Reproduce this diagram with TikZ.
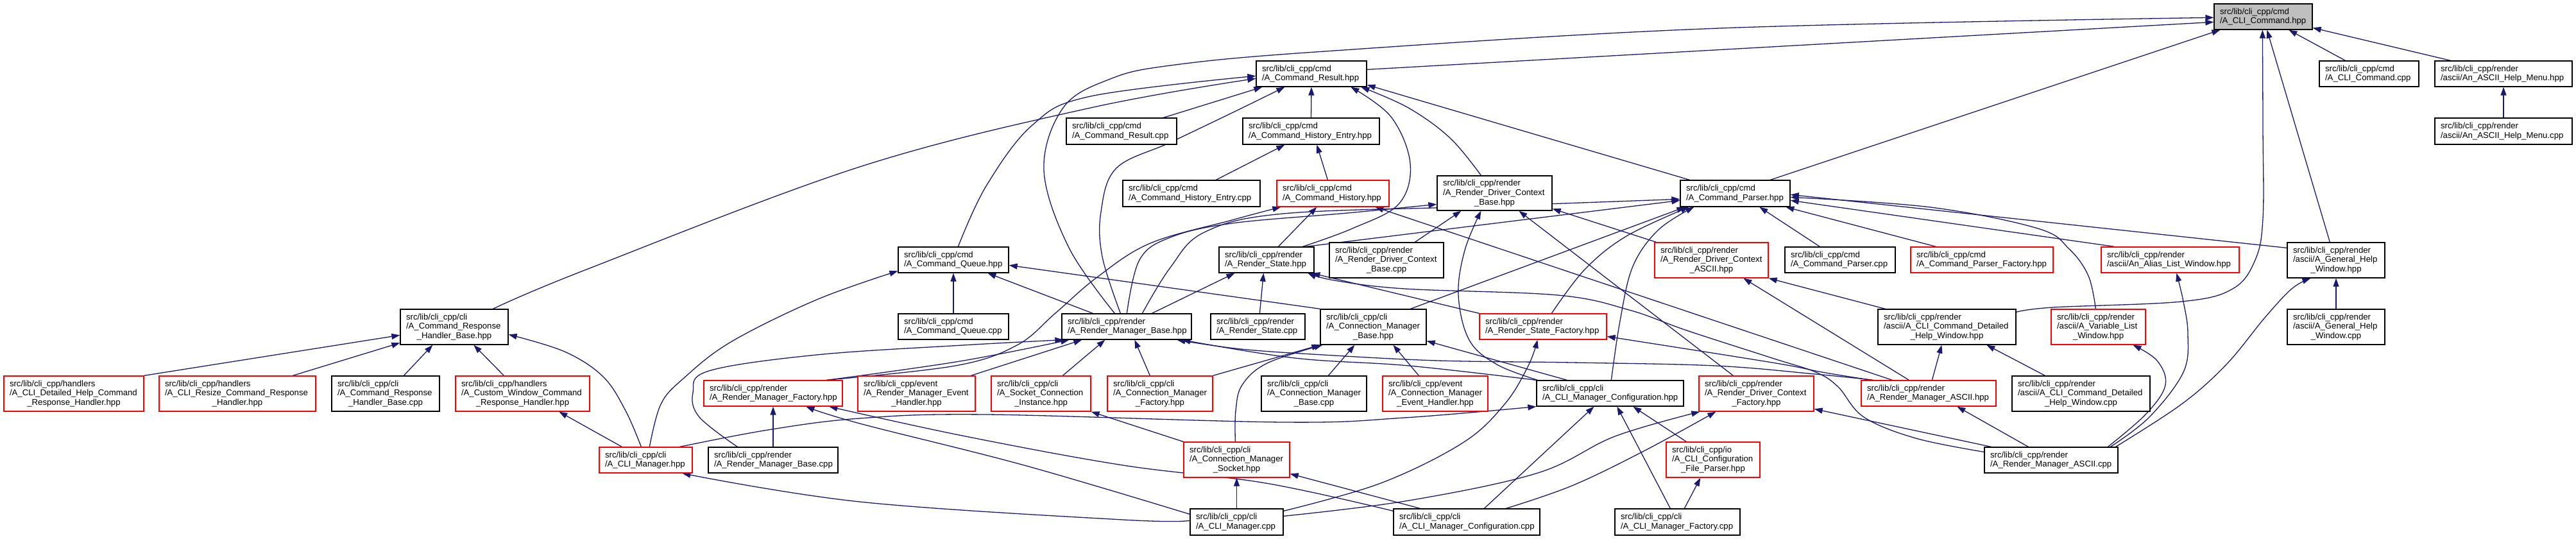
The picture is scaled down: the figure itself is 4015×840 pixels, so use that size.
\documentclass[tikz,border=0pt]{standalone}
\usepackage{fontspec}
\setmainfont{Liberation Sans}
\usetikzlibrary{arrows.meta}
\definecolor{edgec}{HTML}{191970}
\definecolor{redb}{HTML}{FF0000}
\definecolor{grayf}{HTML}{BFBFBF}
\pgfdeclarelayer{bg}
\pgfsetlayers{bg,main}
\newcommand\lastln[1]{\makebox[\hsize][c]{#1}}
\newcommand\bx[7]{%
  \pgfmathsetmacro\bxw{#4-#2}\pgfmathsetmacro\bxh{#5-#3}\pgfmathsetmacro\bxt{#4-#2-18}%
  \node[#6, minimum width=\bxw pt, minimum height=\bxh pt] (#1) at ({(#2+#4)/2},{(#3+#5)/2}) {};
  \node[txt, text width=\bxt pt] (#1t) at (#1.center) {#7};}
\begin{document}
\begin{tikzpicture}[x=1pt,y=-1pt,
  boxk/.style={draw=black, fill=white, line width=1.3pt, inner sep=0pt, rectangle},
  boxr/.style={draw=redb, fill=white, line width=1.3pt, inner sep=0pt, rectangle},
  boxg/.style={draw=black, fill=grayf, line width=1.3pt, inner sep=0pt, rectangle},
  txt/.style={inner sep=0pt, align=left, font=\fontsize{13.2}{14.6}\selectfont},
  e/.style={draw=edgec, line width=1.3pt, -{Triangle[length=13pt,width=9pt]}},
  sm/.style={smooth, tension=0.6}]
\useasboundingbox (0,0) rectangle (4015,840);

\bx{n0}{3451}{6}{3604}{46}{boxg}{src/lib/cli\_cpp/cmd\\/A\_CLI\_Command.hpp}
\bx{cr}{1958}{95}{2130}{135}{boxk}{src/lib/cli\_cpp/cmd\\/A\_Command\_Result.hpp}
\bx{cc}{3615}{95}{3770}{135}{boxk}{src/lib/cli\_cpp/cmd\\/A\_CLI\_Command.cpp}
\bx{ahm}{3795}{95}{4009}{135}{boxk}{src/lib/cli\_cpp/render\\/ascii/An\_ASCII\_Help\_Menu.hpp}
\bx{ahmc}{3795}{184}{4009}{225}{boxk}{src/lib/cli\_cpp/render\\/ascii/An\_ASCII\_Help\_Menu.cpp}
\bx{crc}{1662}{184}{1834}{225}{boxk}{src/lib/cli\_cpp/cmd\\/A\_Command\_Result.cpp}
\bx{che}{1937}{184}{2150}{225}{boxk}{src/lib/cli\_cpp/cmd\\/A\_Command\_History\_Entry.hpp}
\bx{chec}{1750}{281}{1964}{322}{boxk}{src/lib/cli\_cpp/cmd\\/A\_Command\_History\_Entry.cpp}
\bx{ch}{1990}{281}{2165}{322}{boxr}{src/lib/cli\_cpp/cmd\\/A\_Command\_History.hpp}
\bx{rdcb}{2240}{274}{2419}{328}{boxk}{src/lib/cli\_cpp/render\\/A\_Render\_Driver\_Context\\\lastln{\_Base.hpp}}
\bx{cp}{2619}{281}{2790}{322}{boxk}{src/lib/cli\_cpp/cmd\\/A\_Command\_Parser.hpp}
\bx{cq}{1400}{385}{1572}{425}{boxk}{src/lib/cli\_cpp/cmd\\/A\_Command\_Queue.hpp}
\bx{rs}{1900}{385}{2048}{425}{boxk}{src/lib/cli\_cpp/render\\/A\_Render\_State.hpp}
\bx{rdcbc}{2072}{378}{2250}{433}{boxk}{src/lib/cli\_cpp/render\\/A\_Render\_Driver\_Context\\\lastln{\_Base.cpp}}
\bx{rdca}{2579}{378}{2756}{433}{boxr}{src/lib/cli\_cpp/render\\/A\_Render\_Driver\_Context\\\lastln{\_ASCII.hpp}}
\bx{cpc}{2782}{385}{2954}{425}{boxk}{src/lib/cli\_cpp/cmd\\/A\_Command\_Parser.cpp}
\bx{cpf}{2978}{385}{3200}{425}{boxr}{src/lib/cli\_cpp/cmd\\/A\_Command\_Parser\_Factory.hpp}
\bx{alw}{3275}{385}{3490}{425}{boxr}{src/lib/cli\_cpp/render\\/ascii/An\_Alias\_List\_Window.hpp}
\bx{ghw}{3565}{378}{3717}{433}{boxk}{src/lib/cli\_cpp/render\\/ascii/A\_General\_Help\\\lastln{\_Window.hpp}}
\bx{crhb}{624}{482}{792}{537}{boxk}{src/lib/cli\_cpp/cli\\/A\_Command\_Response\\\lastln{\_Handler\_Base.hpp}}
\bx{cqc}{1400}{489}{1572}{529}{boxk}{src/lib/cli\_cpp/cmd\\/A\_Command\_Queue.cpp}
\bx{rmb}{1655}{489}{1857}{529}{boxk}{src/lib/cli\_cpp/render\\/A\_Render\_Manager\_Base.hpp}
\bx{rsc}{1887}{489}{2034}{529}{boxk}{src/lib/cli\_cpp/render\\/A\_Render\_State.cpp}
\bx{cmb}{2058}{482}{2223}{537}{boxk}{src/lib/cli\_cpp/cli\\/A\_Connection\_Manager\\\lastln{\_Base.hpp}}
\bx{rsf}{2306}{489}{2504}{529}{boxr}{src/lib/cli\_cpp/render\\/A\_Render\_State\_Factory.hpp}
\bx{cdhw}{2927}{482}{3142}{537}{boxk}{src/lib/cli\_cpp/render\\/ascii/A\_CLI\_Command\_Detailed\\\lastln{\_Help\_Window.hpp}}
\bx{vlw}{3197}{482}{3344}{537}{boxr}{src/lib/cli\_cpp/render\\/ascii/A\_Variable\_List\\\lastln{\_Window.hpp}}
\bx{ghwc}{3565}{482}{3717}{537}{boxk}{src/lib/cli\_cpp/render\\/ascii/A\_General\_Help\\\lastln{\_Window.cpp}}
\bx{dh}{6}{586}{224}{641}{boxr}{src/lib/cli\_cpp/handlers\\/A\_CLI\_Detailed\_Help\_Command\\\lastln{\_Response\_Handler.hpp}}
\bx{rz}{248}{586}{492}{641}{boxr}{src/lib/cli\_cpp/handlers\\/A\_CLI\_Resize\_Command\_Response\\\lastln{\_Handler.hpp}}
\bx{crhbc}{517}{586}{685}{641}{boxk}{src/lib/cli\_cpp/cli\\/A\_Command\_Response\\\lastln{\_Handler\_Base.cpp}}
\bx{cw}{710}{586}{919}{641}{boxr}{src/lib/cli\_cpp/handlers\\/A\_Custom\_Window\_Command\\\lastln{\_Response\_Handler.hpp}}
\bx{rmf}{1097}{593}{1313}{633}{boxr}{src/lib/cli\_cpp/render\\/A\_Render\_Manager\_Factory.hpp}
\bx{rmeh}{1337}{586}{1520}{641}{boxr}{src/lib/cli\_cpp/event\\/A\_Render\_Manager\_Event\\\lastln{\_Handler.hpp}}
\bx{sci}{1545}{586}{1700}{641}{boxr}{src/lib/cli\_cpp/cli\\/A\_Socket\_Connection\\\lastln{\_Instance.hpp}}
\bx{cmf}{1726}{586}{1890}{641}{boxr}{src/lib/cli\_cpp/cli\\/A\_Connection\_Manager\\\lastln{\_Factory.hpp}}
\bx{cmbc}{1966}{586}{2130}{641}{boxk}{src/lib/cli\_cpp/cli\\/A\_Connection\_Manager\\\lastln{\_Base.cpp}}
\bx{cmeh}{2155}{586}{2319}{641}{boxr}{src/lib/cli\_cpp/event\\/A\_Connection\_Manager\\\lastln{\_Event\_Handler.hpp}}
\bx{cmc}{2395}{593}{2624}{633}{boxk}{src/lib/cli\_cpp/cli\\/A\_CLI\_Manager\_Configuration.hpp}
\bx{rdcf}{2648}{586}{2827}{641}{boxr}{src/lib/cli\_cpp/render\\/A\_Render\_Driver\_Context\\\lastln{\_Factory.hpp}}
\bx{rma}{2901}{593}{3111}{633}{boxr}{src/lib/cli\_cpp/render\\/A\_Render\_Manager\_ASCII.hpp}
\bx{cdhwc}{3136}{586}{3351}{641}{boxk}{src/lib/cli\_cpp/render\\/ascii/A\_CLI\_Command\_Detailed\\\lastln{\_Help\_Window.cpp}}
\bx{cm}{934}{697}{1079}{737}{boxr}{src/lib/cli\_cpp/cli\\/A\_CLI\_Manager.hpp}
\bx{rmbc}{1104}{697}{1306}{737}{boxk}{src/lib/cli\_cpp/render\\/A\_Render\_Manager\_Base.cpp}
\bx{cms}{1845}{689}{2010}{744}{boxr}{src/lib/cli\_cpp/cli\\/A\_Connection\_Manager\\\lastln{\_Socket.hpp}}
\bx{cfp}{2597}{689}{2743}{744}{boxr}{src/lib/cli\_cpp/io\\/A\_CLI\_Configuration\\\lastln{\_File\_Parser.hpp}}
\bx{rmac}{3093}{697}{3301}{737}{boxk}{src/lib/cli\_cpp/render\\/A\_Render\_Manager\_ASCII.cpp}
\bx{cmcpp}{1855}{793}{2000}{834}{boxk}{src/lib/cli\_cpp/cli\\/A\_CLI\_Manager.cpp}
\bx{cmcc}{2172}{793}{2400}{834}{boxk}{src/lib/cli\_cpp/cli\\/A\_CLI\_Manager\_Configuration.cpp}
\bx{cmfc}{2517}{793}{2712}{834}{boxk}{src/lib/cli\_cpp/cli\\/A\_CLI\_Manager\_Factory.cpp}

\begin{pgfonlayer}{bg}
\fill[white] (0,0) rectangle (4015,840);
\draw[e] ([yshift=-14pt]cr.north east) -- ([yshift=-29pt]n0.north west);
\draw[e] plot[sm] coordinates {([xshift=83pt]rmb.north west) (1666,386) (1627,265) (1657,168) (1728,124) (1824,102) (2065,80) (2680,44) ([yshift=-22pt]n0.north west)};
\draw[e] ([xshift=141pt]cp.north west) -- ([xshift=10pt]n0.south west);
\draw[e] plot[sm] coordinates {([yshift=-5pt]cdhw.north east) (3200,479) (3400,470) (3480,450) (3515,405) (3527,340) (3527,200) ([xshift=76pt]n0.south west)};
\draw[e] ([xshift=67pt]ghw.north west) -- ([xshift=83pt]n0.south west);
\draw[e] ([xshift=41pt]cc.north west) -- ([xshift=117pt]n0.south west);
\draw[e] ([xshift=25pt]ahm.north west) -- ([yshift=-38pt]n0.north east);
\draw[e] (ahmc.north) -- (ahm.south);
\draw[e] plot[sm] coordinates {([xshift=145pt]crhb.north west) (914,420) (1340,260) (1700,168) ([yshift=-28pt]cr.north west)};
\draw[e] plot[sm] coordinates {([xshift=94pt]cq.north west) (1537,290) (1609,195) (1700,150) ([yshift=-24pt]cr.north west)};
\draw[e] ([xshift=152pt]crc.north west) -- ([xshift=10pt]cr.south west);
\draw[e] plot[sm] coordinates {([xshift=92pt]rmb.north west) (1718,400) (1716,330) (1740,262) (1824,222) (1920,176) ([xshift=45pt]cr.south west)};
\draw[e] (che.north) -- (cr.south);
\draw[e] plot[sm] coordinates {([xshift=131pt]rs.north west) (2108,356) (2180,318) (2198,255) (2168,182) ([xshift=148pt]cr.south west)};
\draw[e] plot[sm] coordinates {([xshift=69pt]rdcb.north west) (2260,215) (2195,168) ([xshift=164pt]cr.south west)};
\draw[e] ([xshift=15pt]cp.north west) -- ([yshift=-38pt]cr.north east);
\draw[e] ([xshift=80pt]ch.north west) -- ([xshift=116pt]che.south west);
\draw[e] ([xshift=146pt]chec.north west) -- ([xshift=66pt]che.south west);
\draw[e] plot[sm] coordinates {([xshift=191pt]rmf.north west) (1489,570) (1585,538) (1645,488) (1710,432) (1793,379) (1920,343) ([xshift=7pt]ch.south west)};
\draw[e] ([xshift=93pt]rs.north west) -- ([xshift=63pt]ch.south west);
\draw[e] ([xshift=49pt]rma.north west) -- ([xshift=154pt]ch.south west);
\draw[e] ([xshift=134pt]rdcbc.north west) -- ([xshift=38pt]rdcb.south west);
\draw[e] plot[sm] coordinates {([xshift=2pt]cmc.north west) (2333,568) (2290,530) (2273,460) (2283,390) ([xshift=69pt]rdcb.south west)};
\draw[e] ([xshift=54pt]rdcf.north west) -- ([xshift=128pt]rdcb.south west);
\draw[e] ([xshift=3pt]rdca.north west) -- ([yshift=-52pt]rdcb.north east);
\draw[e] plot[sm] coordinates {([xshift=102pt]rmb.north west) (1776,405) (1824,370) (1920,348) (2100,332) ([yshift=-45pt]rdcb.north west)};
\draw[e] plot[sm] coordinates {([xshift=126pt]rmb.north west) (1824,417) (1877,362) (2000,333) (2300,322) ([yshift=-30pt]cp.north west)};
\draw[e] ([xshift=136pt]rs.north west) -- ([yshift=-32pt]cp.north west);
\draw[e] ([xshift=141pt]cmb.north west) -- ([xshift=8pt]cp.south west);
\draw[e] plot[sm] coordinates {([xshift=117pt]cmc.north west) (2525,500) (2545,415) (2585,358) ([xshift=22pt]cp.south west)};
\draw[e] plot[sm] coordinates {([xshift=113pt]rsf.north west) (2470,420) (2535,368) ([xshift=14pt]cp.south west)};
\draw[e] plot[sm] coordinates {([xshift=70pt]vlw.north west) (3255,430) (3225,388) (3176,356) (3009,323) ([yshift=-27pt]cp.north east)};
\draw[e] ([yshift=-9pt]ghw.north west) -- ([yshift=-23pt]cp.north east);
\draw[e] ([xshift=21pt]alw.north west) -- ([yshift=-32pt]cp.north east);
\draw[e] ([xshift=55pt]cpc.north west) -- ([xshift=124pt]cp.south west);
\draw[e] ([xshift=40pt]cpf.north west) -- ([xshift=165pt]cp.south west);
\draw[e] plot[sm] coordinates {([xshift=79pt]cm.north west) (1030,630) (1065,590) (1139,533) (1273,467) ([yshift=-38pt]cq.north west)};
\draw[e] (cqc.north) -- (cq.south);
\draw[e] ([xshift=49pt]rmb.north west) -- ([xshift=140pt]cq.south west);
\draw[e] (cmb.north west) -- ([yshift=-29pt]cq.north east);
\draw[e] ([xshift=141pt]rmb.north west) -- ([xshift=25pt]rs.south west);
\draw[e] ([xshift=77pt]rsc.north west) -- ([xshift=70pt]rs.south west);
\draw[e] (rsf.north west) -- ([xshift=145pt]rs.south west);
\draw[e] plot[sm] coordinates {([yshift=-8pt]rmac.north west) (2986,683) (2905,650) (2865,603) (2830,580) (2762,558) (2629,515) (2539,483) (2428,460) (2189,450) (2080,437) ([xshift=139pt]rs.south west)};
\draw[e] ([xshift=75pt]rma.north west) -- ([xshift=139pt]rdca.south west);
\draw[e] ([xshift=12pt]cdhw.north west) -- (rdca.south east);
\draw[e] ([xshift=111pt]rma.north west) -- ([xshift=100pt]cdhw.south west);
\draw[e] ([xshift=52pt]cdhwc.north west) -- ([xshift=170pt]cdhw.south west);
\draw[e] plot[sm] coordinates {([xshift=197pt]rmac.north west) (3350,650) (3403,580) (3410,520) (3403,470) ([xshift=118pt]alw.south west)};
\draw[e] plot[sm] coordinates {([xshift=193pt]rmac.north west) (3345,645) (3375,600) (3362,562) ([xshift=128pt]vlw.south west)};
\draw[e] plot[sm] coordinates {([xshift=205pt]rmac.north west) (3400,630) (3470,568) (3530,495) (3572,450) ([xshift=37pt]ghw.south west)};
\draw[e] (ghwc.north) -- (ghw.south);
\draw[e] (dh.north east) -- ([yshift=-41pt]crhb.north west);
\draw[e] ([xshift=209pt]rz.north west) -- ([yshift=-53pt]crhb.north west);
\draw[e] ([xshift=113pt]crhbc.north west) -- ([xshift=51pt]crhb.south west);
\draw[e] ([xshift=76pt]cw.north west) -- ([xshift=115pt]crhb.south west);
\draw[e] plot[sm] coordinates {([xshift=66pt]cm.north west) (975,640) (940,587) (880,548) ([yshift=-40pt]crhb.north east)};
\draw[e] ([xshift=36pt]cm.north west) -- ([xshift=162pt]cw.south west);
\draw[e] plot[sm] coordinates {([xshift=46pt]rmbc.north west) (1090,650) (1080,612) (1105,578) (1273,553) (1500,538) ([xshift=3pt]rmb.south west)};
\draw[e] plot[sm] coordinates {([xshift=193pt]rmf.north west) (1496,563) ([xshift=12pt]rmb.south west)};
\draw[e] ([xshift=177pt]rmeh.north west) -- ([xshift=32pt]rmb.south west);
\draw[e] ([xshift=112pt]sci.north west) -- ([xshift=68pt]rmb.south west);
\draw[e] ([xshift=67pt]cmf.north west) -- ([xshift=114pt]rmb.south west);
\draw[e] plot[sm] coordinates {(cmc.north west) (2196,570) (2018,558) ([xshift=188pt]rmb.south west)};
\draw[e] plot[sm] coordinates {([xshift=20pt]rma.north west) (2829,583) (2673,570) (2450,565) (2241,562) (2062,553) (1934,544) ([xshift=180pt]rmb.south west)};
\draw[e] (cmf.north east) -- (cmb.south west);
\draw[e] plot[sm] coordinates {([xshift=81pt]cms.north west) (1926,640) (1936,600) (1975,566) ([xshift=4pt]cmb.south west)};
\draw[e] ([xshift=105pt]cmbc.north west) -- ([xshift=54pt]cmb.south west);
\draw[e] ([xshift=57pt]cmeh.north west) -- ([xshift=114pt]cmb.south west);
\draw[e] ([xshift=48pt]cmc.north west) -- ([yshift=-50pt]cmb.north east);
\draw[e] plot[sm] coordinates {([xshift=16pt]rma.north west) (2840,580) (2762,565) ([yshift=-36pt]rsf.north east)};
\draw[e] plot[sm] coordinates {([yshift=-4pt]cmcpp.north east) (2152,753) (2280,690) (2345,630) (2382,570) ([xshift=91pt]rsf.south west)};
\draw[e] plot[sm] coordinates {([xshift=126pt]cm.north west) (1197,670) (1340,652) (1537,646) (2000,658) (2189,651) (cmc.south west)};
\draw[e] ([xshift=142pt]cmcc.north west) -- ([xshift=90pt]cmc.south west);
\draw[e] ([xshift=87pt]cmfc.north west) -- ([xshift=126pt]cmc.south west);
\draw[e] ([xshift=32pt]cfp.north west) -- ([xshift=151pt]cmc.south west);
\draw[e] plot[sm] coordinates {([yshift=-12pt]cmcpp.north east) (2196,780) (2397,737) (2517,680) ([xshift=2pt]rdcf.south west)};
\draw[e] plot[sm] coordinates {([xshift=176pt]cmcc.north west) (2450,757) (2562,703) ([xshift=27pt]rdcf.south west)};
\draw[e] ([xshift=11pt]rmac.north west) -- ([yshift=-52pt]rdcf.north east);
\draw[e] ([xshift=69pt]rmac.north west) -- ([xshift=150pt]rma.south west);
\draw[e] (rmbc.north) -- (rmf.south);
\draw[e] plot[sm] coordinates {([yshift=-9pt]cmcpp.north west) (1596,725) (1340,660) ([xshift=160pt]rmf.south west)};
\draw[e] plot[sm] coordinates {([yshift=-4pt]cmcc.north west) (1973,753) (1750,725) (1500,679) ([xshift=196pt]rmf.south west)};
\draw[e] (cms.north west) -- (sci.south east);
\draw[e] (cmcpp.north) -- (cms.south);
\draw[e] ([xshift=42pt]cmcc.north west) -- ([yshift=-50pt]cms.north east);
\draw[e] ([xshift=109pt]cmfc.north west) -- ([xshift=54pt]cfp.south west);
\draw[e] plot[sm] coordinates {([yshift=-19pt]cmcpp.north west) (1750,810) (1340,782) ([xshift=130pt]cm.south west)};
\end{pgfonlayer}
\end{tikzpicture}
\end{document}
